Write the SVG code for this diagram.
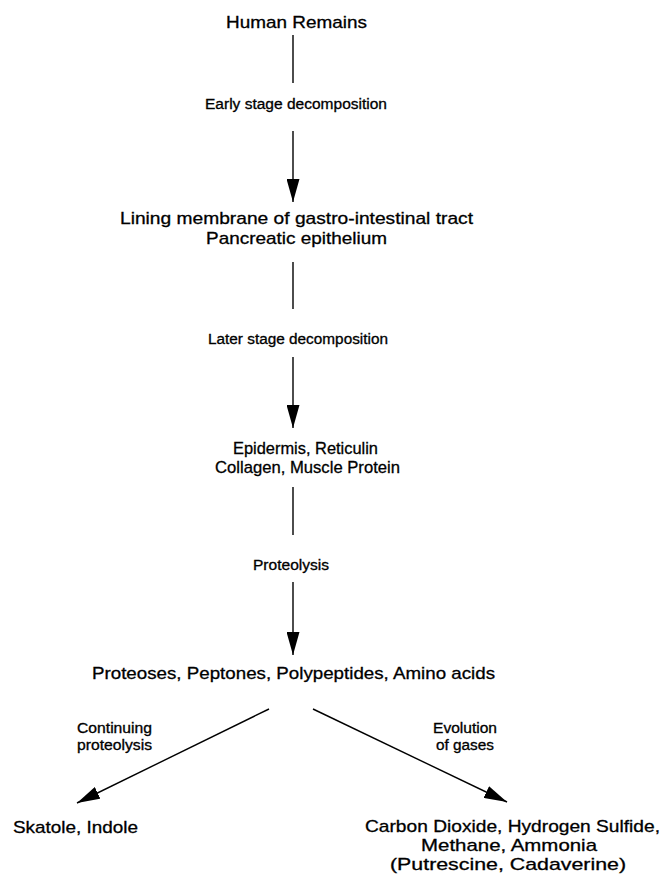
<svg xmlns="http://www.w3.org/2000/svg" width="665" height="874" viewBox="0 0 665 874">
<style>
text{font-family:"Liberation Sans",Arial,Helvetica,sans-serif;fill:#000;stroke:#000;stroke-width:0.3}
.n{font-size:17px}
.l{font-size:14px}
.c{stroke:#000;stroke-width:1.4;fill:none}
</style>
<defs>
<marker id="ah" viewBox="0 0 23 13" refX="23" refY="6.5" markerWidth="23" markerHeight="13" markerUnits="userSpaceOnUse" orient="auto">
<path d="M0,0 L23,6.5 L0,13 Z" fill="#000"/>
</marker>
</defs>
<rect width="665" height="874" fill="#fff"/>
<g id="connectors">
<line class="c" x1="293" y1="35" x2="293" y2="83"/>
<line class="c" x1="293" y1="131" x2="293" y2="202" marker-end="url(#ah)"/>
<line class="c" x1="293" y1="262" x2="293" y2="309"/>
<line class="c" x1="293" y1="357" x2="293" y2="428" marker-end="url(#ah)"/>
<line class="c" x1="293" y1="487" x2="293" y2="535"/>
<line class="c" x1="293" y1="582" x2="293" y2="655" marker-end="url(#ah)"/>
<line class="c" x1="269" y1="709" x2="77" y2="803" marker-end="url(#ah)"/>
<line class="c" x1="313" y1="709" x2="507" y2="802" marker-end="url(#ah)"/>
</g>
<g id="labels">
<text class="l" x="205" y="109" textLength="182" lengthAdjust="spacingAndGlyphs">Early stage decomposition</text>
<text class="l" x="208" y="344" textLength="180" lengthAdjust="spacingAndGlyphs">Later stage decomposition</text>
<text class="l" x="253" y="570" textLength="76" lengthAdjust="spacingAndGlyphs">Proteolysis</text>
<text class="l" x="77" y="733" textLength="75" lengthAdjust="spacingAndGlyphs">Continuing</text>
<text class="l" x="77" y="750" textLength="75" lengthAdjust="spacingAndGlyphs">proteolysis</text>
<text class="l" x="433" y="733" textLength="64" lengthAdjust="spacingAndGlyphs">Evolution</text>
<text class="l" x="436" y="750" textLength="58" lengthAdjust="spacingAndGlyphs">of gases</text>
</g>
<g id="n1">
<text class="n" x="226" y="28" textLength="141" lengthAdjust="spacingAndGlyphs">Human Remains</text>
</g>
<g id="n2">
<text class="n" x="120" y="224" textLength="353" lengthAdjust="spacingAndGlyphs">Lining membrane of gastro-intestinal tract</text>
<text class="n" x="206" y="244" textLength="181" lengthAdjust="spacingAndGlyphs">Pancreatic epithelium</text>
</g>
<g id="n3">
<text class="n" x="233" y="454" textLength="145" lengthAdjust="spacingAndGlyphs">Epidermis, Reticulin</text>
<text class="n" x="215" y="473" textLength="185" lengthAdjust="spacingAndGlyphs">Collagen, Muscle Protein</text>
</g>
<g id="n4">
<text class="n" x="92" y="679" textLength="403" lengthAdjust="spacingAndGlyphs">Proteoses, Peptones, Polypeptides, Amino acids</text>
</g>
<g id="n5">
<text class="n" x="13" y="833" textLength="125" lengthAdjust="spacingAndGlyphs">Skatole, Indole</text>
</g>
<g id="n6">
<text class="n" x="365" y="832" textLength="295" lengthAdjust="spacingAndGlyphs">Carbon Dioxide, Hydrogen Sulfide,</text>
<text class="n" x="421" y="851" textLength="176" lengthAdjust="spacingAndGlyphs">Methane, Ammonia</text>
<text class="n" x="390" y="870" textLength="236" lengthAdjust="spacingAndGlyphs">(Putrescine, Cadaverine)</text>
</g>
</svg>
